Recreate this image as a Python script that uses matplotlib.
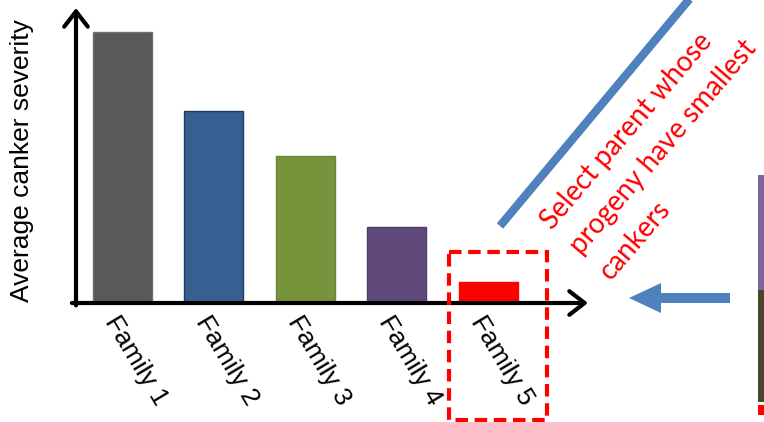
import matplotlib.pyplot as plt
import matplotlib.patches as mpatches
import matplotlib.transforms as mtransforms
from matplotlib.lines import Line2D

families = ['Family 1', 'Family 2', 'Family 3', 'Family 4', 'Family 5']
severity = [2.71, 1.92, 1.47, 0.76, 0.21]
bar_colors = ['#595959', '#376092', '#77933C', '#604A7B', '#FF0000']
edge_colors = ['#6f6f6f', '#1f3b60', '#6a8535', '#4f3c68', '#FF0000']
note = 'Select parent whose\nprogeny have smallest\ncankers'

W, H = 764, 422
fig = plt.figure(figsize=(W / 100, H / 100), dpi=100)
# pixel coordinates (origin top-left) for the slide decorations
px = mtransforms.Affine2D().scale(1 / W, -1 / H).translate(0, 1) + fig.transFigure

ax = fig.add_axes([76 / W, 1 - 303 / H, (588 - 76) / W, (303 - 8) / H])
x = range(len(families))
ax.bar(x, severity, width=0.645, color=bar_colors, edgecolor=edge_colors, linewidth=1, zorder=2)
ax.set_xlim(-0.505, 5.09)
ax.set_ylim(0, 2.95)
for s in ax.spines.values():
    s.set_visible(False)
ax.set_xticks([])
ax.set_yticks([])

# axis arrows
arrow = dict(arrowstyle='->,head_length=1.1,head_width=0.85', lw=3, color='black',
             shrinkA=0, shrinkB=0)
ax.annotate('', xy=(1, 0), xytext=(-0.008, 0), xycoords='axes fraction', arrowprops=arrow)
ax.annotate('', xy=(0, 1), xytext=(0, -0.008), xycoords='axes fraction', arrowprops=arrow)

# rotated family labels
lab_off = mtransforms.offset_copy(ax.transData, fig=fig, x=-2, y=-9, units='dots')
for i, name in enumerate(families):
    ax.text(i, 0, name, transform=lab_off, rotation=-59, rotation_mode='anchor',
            ha='left', va='top', fontsize=19, family='Liberation Sans')

fig.text(22 / W, 1 - 161 / H, 'Average canker severity', rotation=90, ha='center',
         va='center', fontsize=19, family='Liberation Sans')

# dashed box around family 5
fig.add_artist(mpatches.Rectangle((449, 252), 98, 168, transform=px, fill=False,
                                  edgecolor='#FF0000', lw=3, linestyle=(0, (3, 1.6))))

# blue diagonal line
fig.add_artist(Line2D([500, 692], [226, -4], transform=px, color='#4F81BD', lw=6,
                      solid_capstyle='butt'))

# red note (anchored on the baseline of its last line)
fig.text(601 / W, 1 - 273 / H, note, rotation=49.5, rotation_mode='anchor', ha='left',
         va='baseline', fontsize=20, color='#FF0000', family='Lato', linespacing=1.6)

# blue arrow pointing left
fig.add_artist(mpatches.FancyArrow(730, 298, -101, 0, width=10, head_width=30,
                                   head_length=32, length_includes_head=True,
                                   transform=px, color='#4F81BD', lw=0))

# edge of the next stacked bar
for y0, h, c in [(175, 115, '#8064A2'), (290, 112, '#4A452D'), (405, 10, '#FF0000')]:
    fig.add_artist(mpatches.Rectangle((758, y0), 10, h, transform=px, color=c, lw=0))

fig.savefig('out.png', dpi=100)
